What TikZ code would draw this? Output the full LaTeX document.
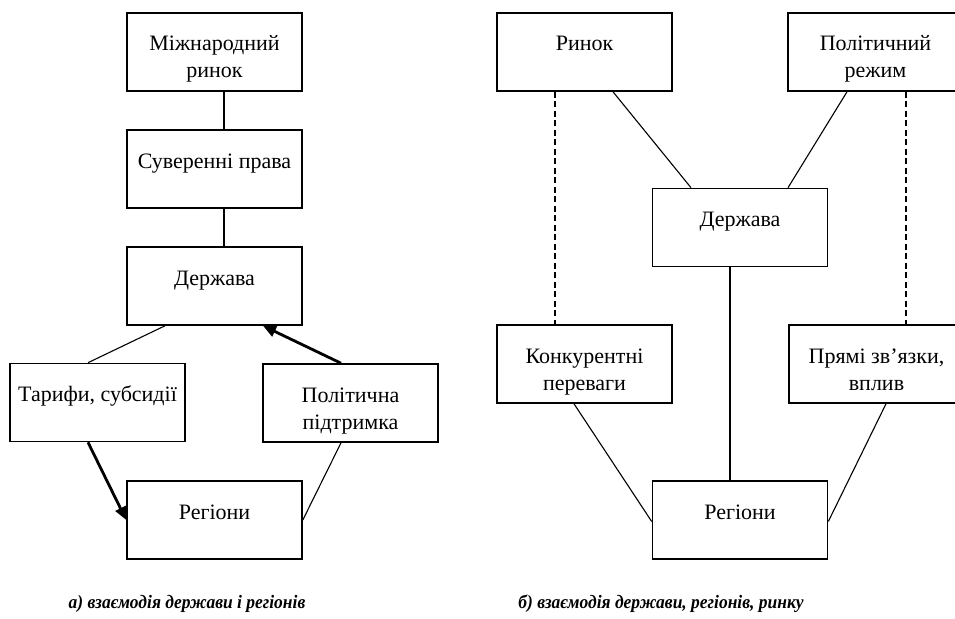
\documentclass[tikz,border=0pt]{standalone}
\usepackage{fontspec}
\setmainfont{Liberation Serif}
\usetikzlibrary{arrows.meta}

\newcommand{\boxtext}[1]{\parbox[c][78pt][t]{175pt}{\centering\fontsize{22}{27}\selectfont\rule{0pt}{38pt}#1}}
\newcommand{\captext}[1]{\scalebox{0.92}[1]{#1}}

\tikzset{
  unit/.style={draw, line width=1.6pt, inner sep=0pt, minimum width=175pt, minimum height=78pt},
  link/.style={line width=1.1pt},
  push/.style={line width=2.8pt, -{Triangle[length=13pt,width=11pt]}},
  hint/.style={line width=2.2pt, dash pattern=on 6pt off 3.5pt},
  caption/.style={inner sep=0pt, font=\fontsize{19}{21}\selectfont\bfseries\itshape}
}

\begin{document}
\begin{tikzpicture}[x=1pt, y=-1pt]
            \useasboundingbox (0,0) rectangle (955,618);
            \clip (0,0) rectangle (955,618);

            % a) the state and the regions
            \node[unit] (markt) at (214.5,52) {\boxtext{Міжнародний\\ринок}};
            \node[unit] (rights) at (214.5,169) {\boxtext{Суверенні права}};
            \node[unit] (stateA) at (214.5,286) {\boxtext{Держава}};
            \node[unit] (tariffs) at (97.5,402.5) {\boxtext{Тарифи, субсидії}};
            \node[unit] (support) at (350.5,403) {\boxtext{Політична\\підтримка}};
            \node[unit] (regA) at (214.5,520) {\boxtext{Регіони}};

            \draw[link] ([xshift=9.5pt]markt.south) to ([xshift=9.5pt]rights.north);
            \draw[link] ([xshift=9.5pt]rights.south) to ([xshift=9.5pt]stateA.north);
            \draw[link] ([xshift=-49.5pt]stateA.south) to ([xshift=-9.5pt]tariffs.north);
            \draw[push] ([xshift=-9.5pt]tariffs.south) to (regA.west);
            \draw[push] ([xshift=-9.5pt]support.north) to ([xshift=48.5pt]stateA.south);
            \draw[link] ([xshift=-9.5pt]support.south) to (regA.east);

            % b) the state, the regions and the market
            \node[unit] (market) at (584.5,52) {\boxtext{Ринок}};
            \node[unit] (regime) at (875.5,52) {\boxtext{Політичний\\режим}};
            \node[unit] (stateB) at (740,227.5) {\boxtext{Держава}};
            \node[unit] (edge) at (584.5,364) {\boxtext{Конкурентні\\переваги}};
            \node[unit] (ties) at (876.5,364) {\boxtext{Прямі зв’язки,\\вплив}};
            \node[unit] (regB) at (740,520) {\boxtext{Регіони}};

            \draw[link] ([xshift=28.5pt]market.south) to ([xshift=-49pt]stateB.north);
            \draw[link] ([xshift=-28.5pt]regime.south) to ([xshift=48pt]stateB.north);
            \draw[hint] ([xshift=-29.5pt]market.south) to ([xshift=-29.5pt]edge.north);
            \draw[hint] ([xshift=30.5pt]regime.south) to ([xshift=29.5pt]ties.north);
            \draw[link] ([xshift=-10pt]stateB.south) to ([xshift=-10pt]regB.north);
            \draw[link] ([xshift=-10.5pt]edge.south) to ([yshift=-1.5pt]regB.west);
            \draw[link] ([xshift=9.5pt]ties.south) to ([yshift=-1.5pt]regB.east);

            \node[caption] (capA) at (187,604) {\captext{а) взаємодія держави і регіонів}};
            \node[caption] (capB) at (661,604) {\captext{б) взаємодія держави, регіонів, ринку}};
        \end{tikzpicture}
\end{document}
